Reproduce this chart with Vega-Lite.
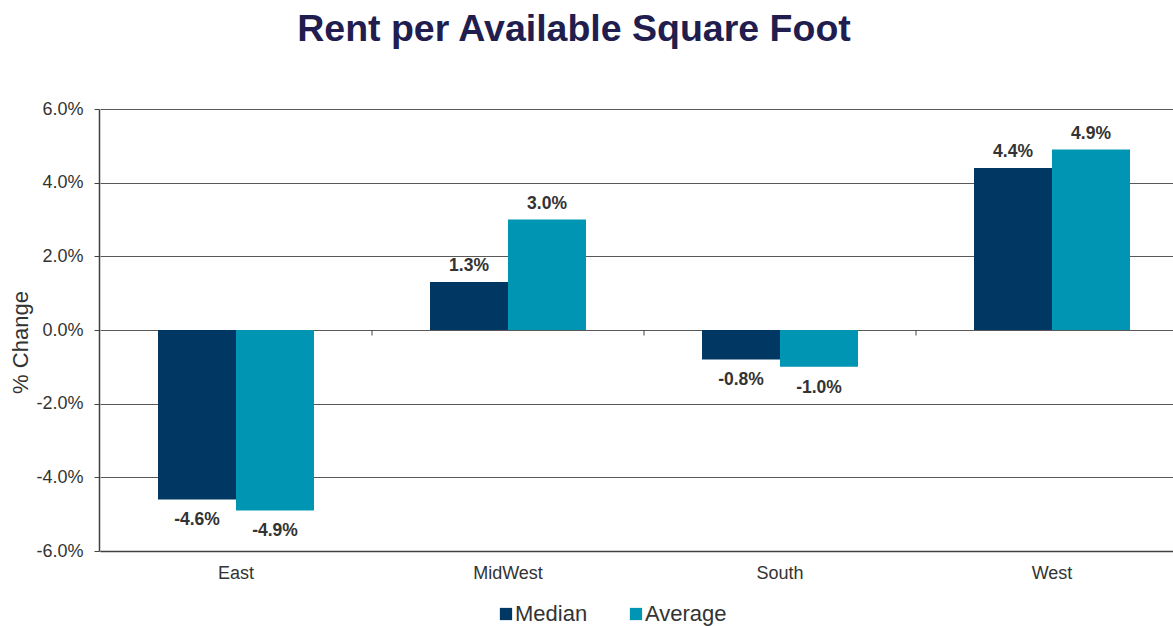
{
  "$schema": "https://vega.github.io/schema/vega-lite/v6.json",
  "autosize": {"type": "none"},
  "padding": {"left": 99, "top": 109, "right": 0, "bottom": 75},
  "width": 1074,
  "height": 442,
  "background": "white",
  "config": {
    "font": "Liberation Sans",
    "view": {"stroke": null},
    "locale": {"number": {"decimal": ".", "thousands": ",", "grouping": [3], "currency": ["$", ""], "minus": "-"}}
  },
  "title": {
    "text": "Rent per Available Square Foot",
    "fontSize": 37.5,
    "fontWeight": "bold",
    "color": "#211d4e",
    "font": "Liberation Sans",
    "anchor": "middle",
    "dx": -62,
    "offset": 52
  },
  "data": {
    "values": [
      {"region": "East", "measure": "Median", "value": -0.046},
      {"region": "East", "measure": "Average", "value": -0.049},
      {"region": "MidWest", "measure": "Median", "value": 0.013},
      {"region": "MidWest", "measure": "Average", "value": 0.030},
      {"region": "South", "measure": "Median", "value": -0.008},
      {"region": "South", "measure": "Average", "value": -0.010},
      {"region": "West", "measure": "Median", "value": 0.044},
      {"region": "West", "measure": "Average", "value": 0.049}
    ]
  },
  "encoding": {
    "x": {
      "field": "region",
      "type": "nominal",
      "sort": ["East", "MidWest", "South", "West"],
      "scale": {"range": [1, 1089], "paddingInner": 0, "paddingOuter": 0},
      "axis": {
        "title": null,
        "labelAngle": 0,
        "labelFontSize": 18,
        "labelColor": "#333333",
        "labelPadding": 13,
        "ticks": false,
        "domain": true,
        "domainColor": "#404040",
        "domainWidth": 1.5,
        "grid": false
      }
    },
    "y": {
      "field": "value",
      "type": "quantitative",
      "scale": {"domain": [-0.06, 0.06], "nice": false, "zero": false},
      "axis": {
        "title": "% Change",
        "titleFontSize": 22,
        "titleFontWeight": "normal",
        "titleColor": "#333333",
        "titlePadding": 3,
        "titleY": 233,
        "format": ".1%",
        "values": [-0.06, -0.04, -0.02, 0, 0.02, 0.04, 0.06],
        "labelFontSize": 18,
        "labelColor": "#333333",
        "labelPadding": 11,
        "tickSize": 5,
        "tickColor": "#404040",
        "domainColor": "#404040",
        "domainWidth": 1.5,
        "grid": true,
        "gridColor": "#595959",
        "gridWidth": 1
      }
    }
  },
  "layer": [
    {
      "mark": {"type": "bar"},
      "encoding": {
        "xOffset": {
          "field": "measure",
          "type": "nominal",
          "sort": ["Median", "Average"],
          "scale": {"paddingInner": 0, "paddingOuter": 0.7436}
        },
        "color": {
          "field": "measure",
          "type": "nominal",
          "sort": ["Median", "Average"],
          "scale": {"domain": ["Median", "Average"], "range": ["#003863", "#0095b3"]},
          "legend": {
            "title": null,
            "orient": "none",
            "direction": "horizontal",
            "legendX": 396,
            "legendY": 494,
            "symbolType": "square",
            "symbolSize": 150,
            "symbolStrokeWidth": 0,
            "labelFontSize": 22,
            "labelColor": "#333333",
            "labelOffset": -2,
            "columnPadding": 37,
            "padding": 0
          }
        }
      }
    },
    {
      "transform": [{"filter": "datum.value >= 0"}],
      "mark": {"type": "text", "fontSize": 17.5, "fontWeight": "bold", "color": "#333333", "baseline": "middle", "dy": -16},
      "encoding": {
        "xOffset": {
          "field": "measure",
          "type": "nominal",
          "sort": ["Median", "Average"],
          "scale": {"paddingInner": 0, "paddingOuter": 0.7436}
        },
        "text": {"field": "value", "type": "quantitative", "format": ".1%"}
      }
    },
    {
      "transform": [{"filter": "datum.value < 0"}],
      "mark": {"type": "text", "fontSize": 17.5, "fontWeight": "bold", "color": "#333333", "baseline": "middle", "dy": 21},
      "encoding": {
        "xOffset": {
          "field": "measure",
          "type": "nominal",
          "sort": ["Median", "Average"],
          "scale": {"paddingInner": 0, "paddingOuter": 0.7436}
        },
        "text": {"field": "value", "type": "quantitative", "format": ".1%"}
      }
    },
    {
      "transform": [{"filter": "datum.measure == 'Median' && datum.region != 'East'"}],
      "mark": {"type": "rule", "color": "#404040", "strokeWidth": 1},
      "encoding": {
        "x": {"field": "region", "type": "nominal", "sort": ["East", "MidWest", "South", "West"], "bandPosition": 0},
        "y": {"datum": 0},
        "y2": {"datum": -0.0015}
      }
    }
  ]
}
